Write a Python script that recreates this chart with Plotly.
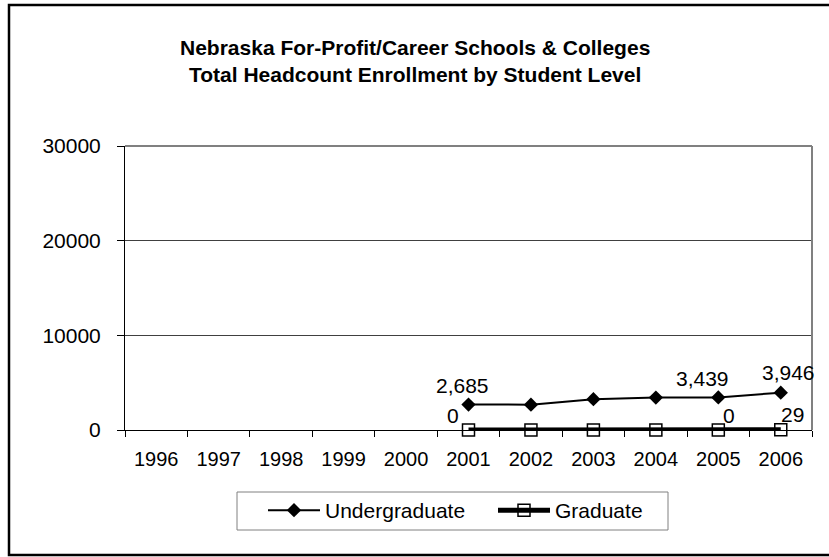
import plotly.graph_objects as go

years = ["1996", "1997", "1998", "1999", "2000", "2001", "2002", "2003", "2004", "2005", "2006"]
undergraduate = [None, None, None, None, None, 2685, 2680, 3260, 3430, 3439, 3946]
graduate = [None, None, None, None, None, 0, 0, 0, 0, 0, 29]
y_ticks = [0, 10000, 20000, 30000]

# which points carry data labels, and their label offsets (px)
ug_labels = {"2001": (-6, 19), "2005": (-16, 19), "2006": (8, 20)}
gr_labels = {"2001": (-16, 15), "2005": (11, 15), "2006": (12, 15)}

W, H = 829, 557
L, R, T, B = 125, 812, 146, 430


def px(x):
    return (x - L) / (R - L)


def py(y):
    return (B - y) / (B - T)


FONT = "Liberation Sans, Arial, sans-serif"

fig = go.Figure()
fig.add_trace(go.Scatter(
    x=years, y=undergraduate, name="Undergraduate", mode="lines+markers",
    line=dict(color="black", width=2), cliponaxis=False,
    marker=dict(symbol="diamond", size=11, color="black"),
))
fig.add_trace(go.Scatter(
    x=years, y=graduate, name="Graduate", mode="lines+markers",
    line=dict(color="black", width=5), cliponaxis=False,
    marker=dict(symbol="square-open", size=12, color="black", line=dict(width=1.5, color="black")),
))

annotations = []
for series, labels in ((undergraduate, ug_labels), (graduate, gr_labels)):
    for yr, (dx, dy) in labels.items():
        i = years.index(yr)
        v = series[i]
        annotations.append(dict(x=i, y=v, xref="x", yref="y", text=f"{v:,}", showarrow=False,
                                xshift=dx, yshift=dy, font=dict(size=21, color="black", family=FONT)))

annotations.append(dict(
    x=px(414.5), y=py(61), xref="paper", yref="paper", xanchor="center", yanchor="middle",
    text="<b>Nebraska For-Profit/Career Schools & Colleges<br>Total Headcount Enrollment by Student Level</b>",
    showarrow=False, font=dict(size=21, color="black", family=FONT),
))

shapes = [
    # outer chart border
    dict(type="rect", xref="paper", yref="paper", x0=px(9), x1=px(880), y0=py(5), y1=py(555),
         line=dict(color="black", width=2.5), layer="below"),
    # legend box
    dict(type="rect", xref="paper", yref="paper", x0=px(237), x1=px(668), y0=py(492), y1=py(530),
         line=dict(color="#808080", width=1), layer="below"),
    # plot area top & right border
    dict(type="line", xref="paper", yref="paper", x0=0, x1=1, y0=1, y1=1,
         line=dict(color="#808080", width=2)),
    dict(type="line", xref="paper", yref="paper", x0=1, x1=1, y0=0, y1=1,
         line=dict(color="#808080", width=2)),
]

fig.update_layout(
    width=W, height=H,
    margin=dict(l=L, r=W - R, t=T, b=H - B, pad=0, autoexpand=False),
    paper_bgcolor="white", plot_bgcolor="white",
    font=dict(family=FONT, size=20, color="black"),
    showlegend=True,
    legend=dict(orientation="h", x=px(263), y=py(490), xanchor="left", yanchor="top",
                borderwidth=0, bgcolor="rgba(0,0,0,0)", font=dict(size=21),
                itemwidth=52, entrywidth=163, tracegroupgap=0),
    annotations=annotations,
    shapes=shapes,
)
fig.update_xaxes(
    type="category", categoryorder="array", categoryarray=years,
    range=[-0.5, len(years) - 0.5],
    showline=True, linecolor="black", linewidth=1,
    ticks="outside", tickson="boundaries", ticklen=6, tickcolor="black",
    showgrid=False, zeroline=False, ticklabelstandoff=11,
    tickfont=dict(size=20),
)
fig.update_yaxes(
    range=[0, 30000], tickvals=y_ticks, ticktext=[str(t) for t in y_ticks],
    showline=True, linecolor="black", linewidth=1,
    ticks="outside", ticklen=7, tickcolor="black",
    showgrid=True, gridcolor="#404040", gridwidth=1, zeroline=False,
    ticklabelstandoff=12, tickfont=dict(size=21),
)

fig.write_html("out.html", config={"displayModeBar": False},
               post_script="document.body.style.margin='0';")
